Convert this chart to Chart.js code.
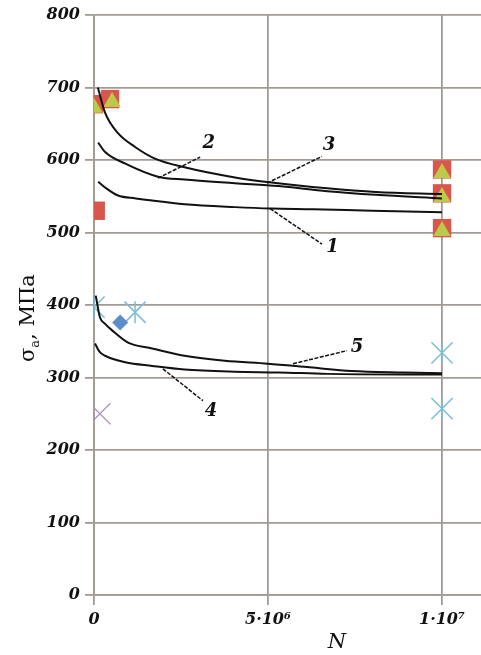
<!DOCTYPE html>
<html>
<head>
<meta charset="utf-8">
<script src="https://cdn.jsdelivr.net/npm/chart.js@4/dist/chart.umd.min.js"></script>
<style>
  html, body { margin: 0; padding: 0; background: #fff; overflow: hidden; }
  canvas { display: block; }
</style>
</head>
<body>
<canvas id="myChart" width="481" height="655"></canvas>
<script>
// fitted curves 1..5 (N, sigma_a)
const curve1N = [0.12e6, 0.32e6, 0.69e6, 1.2e6, 1.67e6, 2.6e6, 4.05e6, 5.1e6, 6.3e6, 8.0e6, 1.0e7];
const curve1 = [570, 562, 551, 547, 544, 539, 535, 533, 532, 530, 528];
const curve2N = [0.12e6, 0.32e6, 0.9e6, 1.84e6, 2.6e6, 4.05e6, 5.3e6, 6.7e6, 8.1e6, 1.0e7];
const curve2 = [624, 611, 595, 577, 573, 568, 564, 557, 552, 547];
const curve3N = [0.11e6, 0.32e6, 0.69e6, 1.18e6, 1.75e6, 2.6e6, 4.05e6, 5.1e6, 6.7e6, 8.1e6, 1.0e7];
const curve3 = [700, 665, 637, 618, 602, 590, 576, 569, 561, 556, 553];
const curve4N = [0.03e6, 0.15e6, 0.32e6, 0.9e6, 1.67e6, 2.6e6, 4.05e6, 5.3e6, 6.7e6, 1.0e7];
const curve4 = [347, 336, 330, 321, 316, 311, 308, 307, 305, 304];
const curve5N = [0.05e6, 0.17e6, 0.32e6, 0.52e6, 0.98e6, 1.67e6, 2.6e6, 3.76e6, 5.0e6, 6.2e6, 7.4e6, 8.9e6, 1.0e7];
const curve5 = [413, 383, 374, 365, 348, 340, 330, 323, 319, 314, 309, 307, 306];

// experimental points
const squareN = [0, 0.46e6, 0.05e6, 1.0e7, 1.0e7, 1.0e7];
const square = [677, 684, 530, 587, 554, 506];
const triangleN = [0, 0.52e6, 1.0e7, 1.0e7, 1.0e7];
const triangle = [672, 680, 582, 549, 502];
const diamondN = [0.75e6];
const diamond = [376];
const starN = [0, 1.18e6, 1.0e7, 1.0e7];
const star = [397, 390, 334, 257];
const crossN = [0.17e6];
const cross = [250];

// curve number labels and their leader lines
const labelText = ["1", "2", "3", "4", "5"];
const labelN = [6.85e6, 3.3e6, 6.75e6, 3.36e6, 7.56e6];
const labelS = [480, 623, 620, 254, 341];
const leaderN = [[5.06e6, 6.55e6], [1.84e6, 3.05e6], [4.97e6, 6.55e6], [1.98e6, 3.13e6], [5.72e6, 7.27e6]];
const leaderS = [[533, 484], [575, 604], [568, 605], [312, 268], [319, 337]];

const xTicks = [0, 5e6, 1e7];
const xTickLabels = ["0", "5·10⁶", "1·10⁷"];

const pts = (xs, ys) => xs.map((x, i) => ({ x: x, y: ys[i] }));

const serif = "'DejaVu Serif', serif";
const gridColor = "#a39b93";

const curves = [[curve1N, curve1], [curve2N, curve2], [curve3N, curve3], [curve4N, curve4], [curve5N, curve5]];
const datasets = [];
curves.forEach(c => {
  datasets.push({
    data: pts(c[0], c[1]),
    showLine: true,
    pointRadius: 0,
    borderColor: "#111",
    borderWidth: 2,
    cubicInterpolationMode: "monotone",
    order: 0
  });
});
leaderN.forEach((xs, i) => {
  datasets.push({
    data: pts(xs, leaderS[i]),
    showLine: true,
    pointRadius: 0,
    borderColor: "#111",
    borderWidth: 1.5,
    borderDash: [4, 1.5],
    order: 0
  });
});
datasets.push({
  data: pts(triangleN, triangle),
  pointStyle: "triangle",
  pointRadius: 10,
  backgroundColor: "#bcca4c",
  borderWidth: 0,
  order: 1
});
datasets.push({
  data: pts(squareN, square),
  pointStyle: "rect",
  pointRadius: 13,
  backgroundColor: "#d9574a",
  borderWidth: 0,
  order: 2
});
datasets.push({
  data: pts(diamondN, diamond),
  pointStyle: "rectRot",
  pointRadius: 8,
  backgroundColor: "#5b8dcb",
  borderWidth: 0,
  order: 1
});
datasets.push({
  data: pts(starN, star),
  pointStyle: "crossRot",
  pointRadius: 15,
  borderColor: "#7dbdd6",
  borderWidth: 1.5,
  order: 1
});
datasets.push({
  data: pts(starN, star),
  pointStyle: "line",
  rotation: 90,
  pointRadius: 11,
  borderColor: "#7dbdd6",
  borderWidth: 1.5,
  order: 1
});
datasets.push({
  data: pts(crossN, cross),
  pointStyle: "crossRot",
  pointRadius: 15,
  borderColor: "#a78bb8",
  borderWidth: 1.3,
  order: 1
});

const textPlugin = {
  id: "texts",
  afterDatasetsDraw(chart) {
    const ctx = chart.ctx;
    const xs = chart.scales.x, ys = chart.scales.y;
    ctx.save();
    ctx.fillStyle = "#111";
    ctx.font = "italic bold 18px " + serif;
    ctx.textAlign = "center";
    ctx.textBaseline = "middle";
    labelText.forEach((t, i) => {
      ctx.fillText(t, xs.getPixelForValue(labelN[i]), ys.getPixelForValue(labelS[i]));
    });
    // x title
    ctx.font = "italic 21px " + serif;
    ctx.fillText("N", 337, 643);
    // y title with subscript
    ctx.translate(34, 362);
    ctx.rotate(-Math.PI / 2);
    ctx.textAlign = "left";
    ctx.textBaseline = "alphabetic";
    ctx.font = "21px " + serif;
    ctx.fillText("σ", 0, 0);
    let w = ctx.measureText("σ").width;
    ctx.font = "13px " + serif;
    ctx.fillText("a", w, 5);
    w += ctx.measureText("a").width;
    ctx.font = "21px " + serif;
    ctx.fillText(", МПа", w, 0);
    ctx.restore();
  }
};

new Chart(document.getElementById("myChart").getContext("2d"), {
  type: "scatter",
  data: { datasets: datasets },
  options: {
    responsive: false,
    animation: false,
    layout: { autoPadding: false, padding: { top: 15, right: 0, left: 0, bottom: 0 } },
    plugins: { legend: { display: false }, tooltip: { enabled: false } },
    scales: {
      x: {
        type: "linear",
        min: 0,
        max: 1.112e7,
        afterBuildTicks: axis => { axis.ticks = xTicks.map(v => ({ value: v })); },
        afterFit: scale => { scale.height = 60; scale.paddingRight = 0; scale.paddingLeft = 0; },
        grid: { color: gridColor, lineWidth: 1.8, tickLength: 10 },
        border: { color: gridColor, width: 1.8 },
        ticks: {
          padding: 5,
          color: "#111",
          font: { family: serif, style: "italic", weight: "bold", size: 16 },
          maxRotation: 0,
          callback: v => xTickLabels[xTicks.indexOf(v)]
        }
      },
      y: {
        min: 0,
        max: 800,
        afterFit: scale => { scale.width = 94; },
        grid: { color: gridColor, lineWidth: 1.8, tickLength: 9 },
        border: { color: gridColor, width: 1.8 },
        ticks: {
          stepSize: 100,
          padding: 5,
          color: "#111",
          font: { family: serif, style: "italic", weight: "bold", size: 16 }
        }
      }
    }
  },
  plugins: [textPlugin]
});
</script>
</body>
</html>
